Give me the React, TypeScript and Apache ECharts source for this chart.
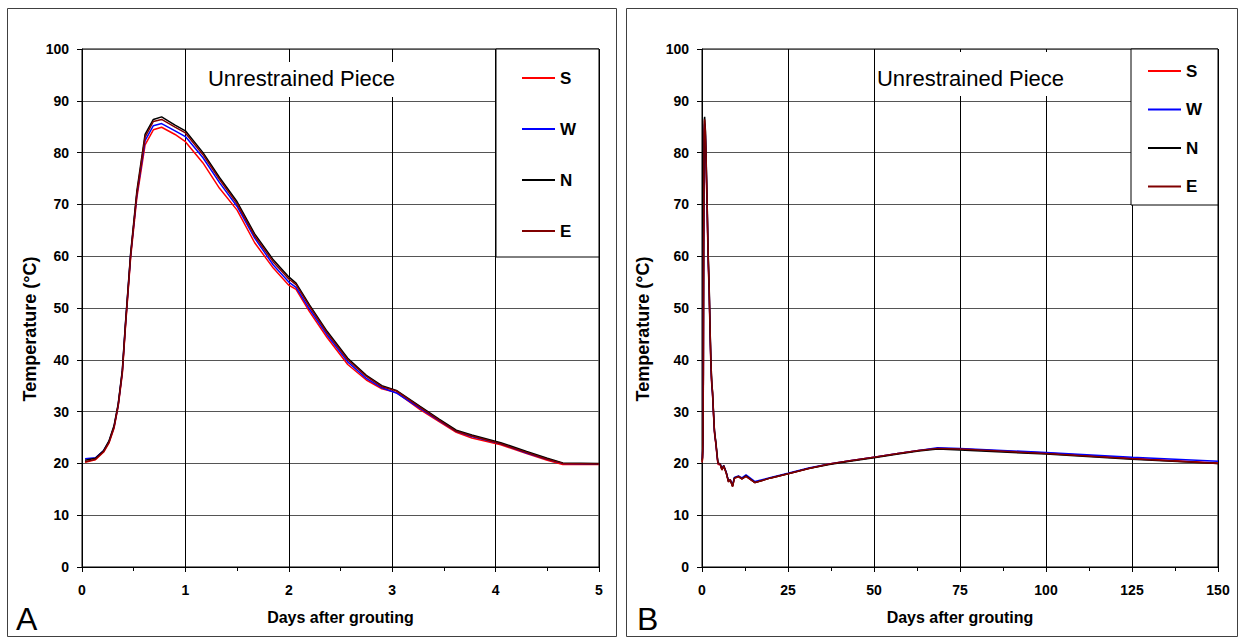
import React, { useEffect, useRef } from "react";
import * as echarts from "echarts";

// ---- Panel A (0-5 days) ----
const daysA = [0.03, 0.13, 0.21, 0.26, 0.31, 0.35, 0.39, 0.42, 0.47, 0.53, 0.61, 0.69, 0.77, 0.9, 1.0, 1.17, 1.33, 1.5, 1.67, 1.85, 2.0, 2.07, 2.2, 2.37, 2.57, 2.75, 2.9, 3.04, 3.27, 3.45, 3.62, 3.77, 4.05, 4.3, 4.5, 4.65, 5.0];
const nA = [20.6, 21.0, 22.5, 24.3, 27.3, 31.5, 38.0, 47.0, 60.5, 72.5, 83.5, 86.4, 86.9, 85.3, 84.2, 80.0, 75.2, 70.5, 64.3, 59.3, 56.0, 54.8, 50.6, 45.5, 40.3, 37.0, 35.0, 34.1, 31.0, 28.6, 26.4, 25.5, 24.0, 22.3, 21.0, 20.1, 20.0];
const eA = [20.3, 20.8, 22.3, 24.0, 27.0, 31.2, 37.6, 46.5, 60.0, 72.0, 83.0, 86.0, 86.4, 84.9, 83.8, 79.6, 74.8, 70.1, 63.9, 58.9, 55.6, 54.5, 50.3, 45.2, 40.0, 36.8, 34.8, 34.0, 30.8, 28.4, 26.2, 25.3, 23.8, 22.1, 20.8, 20.0, 19.9];
const wA = [20.9, 21.1, 22.5, 24.2, 27.1, 31.3, 37.8, 46.8, 60.2, 71.8, 82.3, 85.2, 85.6, 84.2, 83.1, 79.0, 74.2, 69.6, 63.5, 58.3, 55.0, 54.0, 49.8, 44.8, 39.6, 36.4, 34.6, 33.6, 30.6, 28.3, 26.2, 25.2, 23.8, 22.0, 20.8, 20.0, 19.9];
const sA = [20.2, 20.7, 22.2, 23.9, 26.8, 31.0, 37.3, 46.2, 59.6, 71.2, 81.5, 84.4, 84.9, 83.5, 82.1, 78.0, 73.1, 68.9, 62.6, 57.7, 54.4, 53.6, 49.3, 44.3, 39.1, 36.1, 34.4, 33.7, 30.4, 28.1, 26.0, 24.9, 23.6, 21.9, 20.6, 19.8, 19.8];

// ---- Panel B continuation (after 5 days) ----
const daysB = [5.3, 5.8, 6.3, 7.05, 7.7, 8.2, 8.9, 9.4, 10.6, 11.6, 12.8, 15.4, 20, 25, 31, 37, 43, 50, 57, 63, 68.5, 75, 100, 125, 150];
const nB = [19.9, 18.8, 19.6, 18.2, 16.5, 16.8, 15.6, 17.2, 17.5, 17.0, 17.6, 16.3, 17.2, 18.0, 19.0, 19.8, 20.4, 21.1, 21.8, 22.4, 22.8, 22.6, 21.8, 20.8, 20.0];
const eB = [19.8, 18.7, 19.5, 18.1, 16.4, 16.9, 15.5, 17.1, 17.5, 17.0, 17.5, 16.3, 17.2, 18.0, 19.0, 19.9, 20.5, 21.2, 21.9, 22.5, 22.9, 22.8, 21.9, 20.9, 20.0];
const wB = [19.9, 18.9, 19.6, 18.3, 16.6, 16.9, 15.8, 17.3, 17.6, 17.2, 17.8, 16.5, 17.3, 18.1, 19.1, 19.9, 20.5, 21.2, 21.9, 22.5, 23.0, 22.9, 22.1, 21.2, 20.4];
const sB = [19.8, 18.8, 19.5, 18.2, 16.5, 16.8, 15.6, 17.1, 17.4, 17.0, 17.5, 16.3, 17.2, 18.0, 19.0, 19.9, 20.5, 21.2, 21.9, 22.5, 22.9, 22.8, 22.0, 21.0, 20.1];

const seriesNames = ["S", "W", "N", "E"];
const seriesColors = ["#ff0000", "#0000ff", "#000000", "#800000"];
const titleText = "Unrestrained Piece";
const xName = "Days after grouting";
const yName = "Temperature (°C)";

const FONT = 'Arial, "Liberation Sans", Helvetica, sans-serif';

const pairs = (t: number[], v: number[]) => t.map((x, i) => [x, v[i]]);

function xAxisCfg(gridIndex: number, max: number, interval: number) {
  return {
    gridIndex,
    type: "value",
    min: 0,
    max,
    interval,
    axisLine: { show: true, onZero: false, lineStyle: { color: "#000", width: 1 } },
    axisTick: { show: true, length: 5, lineStyle: { color: "#000" } },
    minorTick: { show: true, splitNumber: 2, length: 4, lineStyle: { color: "#000" } },
    axisLabel: { margin: 16, fontSize: 14, fontWeight: "bold", color: "#000", fontFamily: FONT },
    splitLine: { show: true, lineStyle: { color: "#000", width: 1 } },
    name: xName,
    nameLocation: "middle",
    nameGap: 42,
    nameTextStyle: { fontSize: 16, fontWeight: "bold", color: "#000", fontFamily: FONT },
  };
}

function yAxisCfg(gridIndex: number, gap: number) {
  return {
    gridIndex,
    type: "value",
    min: 0,
    max: 100,
    interval: 10,
    axisLine: { show: true, lineStyle: { color: "#000", width: 1 } },
    axisTick: { show: true, length: 5, lineStyle: { color: "#000" } },
    axisLabel: { margin: 13, fontSize: 14, fontWeight: "bold", color: "#000", fontFamily: FONT },
    splitLine: { show: true, lineStyle: { color: "#555", width: 1 } },
    name: yName,
    nameLocation: "middle",
    nameGap: gap,
    nameRotate: 90,
    nameTextStyle: { fontSize: 18, fontWeight: "bold", color: "#000", fontFamily: FONT, padding: [0, 42, 0, 0] },
  };
}

function legendCfg(left: number, top: number, gap: number) {
  return {
    orient: "vertical",
    left,
    top,
    padding: 0,
    icon: "rect",
    itemWidth: 33,
    itemHeight: 2,
    itemGap: gap,
    selectedMode: false,
    data: seriesNames,
    z: 10,
    textStyle: { fontSize: 17, fontWeight: "bold", color: "#000", fontFamily: FONT, lineHeight: 18 },
  };
}

export default function App() {
  const ref = useRef<HTMLDivElement>(null);
  useEffect(() => {
    document.body.style.margin = "0";
    const chart = echarts.init(ref.current!, null, { renderer: "svg" });
    const dataA = [sA, wA, nA, eA];
    const dataB = [
      [...sA, ...sB],
      [...wA, ...wB],
      [...nA, ...nB],
      [...eA, ...eB],
    ];
    const tB = [...daysA, ...daysB];
    const series: any[] = [];
    seriesNames.forEach((name, i) => {
      series.push({
        name,
        type: "line",
        xAxisIndex: 0,
        yAxisIndex: 0,
        symbol: "none",
        data: pairs(daysA, dataA[i]),
        lineStyle: { color: seriesColors[i], width: 1.5 },
        itemStyle: { color: seriesColors[i] },
        z: 2 + i * 0.1,
      });
    });
    seriesNames.forEach((name, i) => {
      series.push({
        name,
        type: "line",
        xAxisIndex: 1,
        yAxisIndex: 1,
        symbol: "none",
        data: pairs(tB, dataB[i]),
        lineStyle: { color: seriesColors[i], width: 1.5 },
        itemStyle: { color: seriesColors[i] },
        z: 2 + i * 0.1,
      });
    });

    const option: any = {
      animation: false,
      backgroundColor: "#fff",
      grid: [
        { left: 82, top: 49, width: 517, height: 518, show: true, borderColor: "#000", borderWidth: 1, backgroundColor: "transparent" },
        { left: 702, top: 49, width: 516, height: 518, show: true, borderColor: "#000", borderWidth: 1, backgroundColor: "transparent" },
      ],
      xAxis: [xAxisCfg(0, 5, 1), xAxisCfg(1, 150, 25)],
      yAxis: [yAxisCfg(0, 43), yAxisCfg(1, 50)],
      legend: [legendCfg(522, 69, 33), legendCfg(1148, 62, 20.5)],
      series,
      graphic: [
        { type: "rect", z: 1, shape: { x: 7.5, y: 8.5, width: 609, height: 628 }, style: { fill: "none", stroke: "#404040", lineWidth: 1 } },
        { type: "rect", z: 1, shape: { x: 626.5, y: 8.5, width: 611, height: 628 }, style: { fill: "none", stroke: "#404040", lineWidth: 1 } },
        { type: "rect", z: 5, shape: { x: 496, y: 49, width: 103, height: 208 }, style: { fill: "#fff", stroke: "#000", lineWidth: 1 } },
        { type: "rect", z: 5, shape: { x: 1131, y: 49, width: 87, height: 156 }, style: { fill: "#fff", stroke: "#000", lineWidth: 1 } },
        { type: "rect", z: 5, shape: { x: 195, y: 62, width: 215, height: 35 }, style: { fill: "#fff" } },
        { type: "rect", z: 5, shape: { x: 876, y: 52, width: 192, height: 44 }, style: { fill: "#fff" } },
        { type: "text", z: 6, x: 301.5, y: 78, style: { text: titleText, fontSize: 22, fontFamily: FONT, fill: "#000", align: "center", verticalAlign: "middle" } },
        { type: "text", z: 6, x: 970.5, y: 78, style: { text: titleText, fontSize: 22, fontFamily: FONT, fill: "#000", align: "center", verticalAlign: "middle" } },
        { type: "text", z: 6, x: 16, y: 619, style: { text: "A", fontSize: 32, fontFamily: FONT, fill: "#000", align: "left", verticalAlign: "middle" } },
        { type: "text", z: 6, x: 637, y: 619, style: { text: "B", fontSize: 32, fontFamily: FONT, fill: "#000", align: "left", verticalAlign: "middle" } },
      ],
    };
    chart.setOption(option);
    return () => chart.dispose();
  }, []);
  return <div ref={ref} style={{ width: 1240, height: 639 }} />;
}
